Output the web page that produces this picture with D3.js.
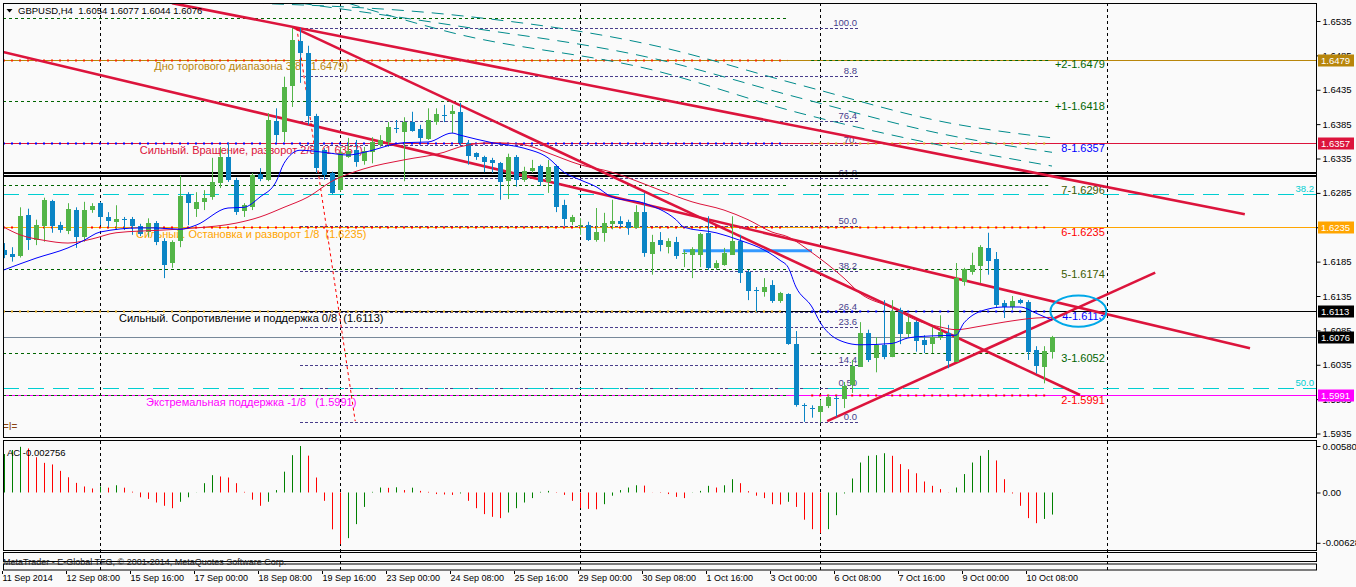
<!DOCTYPE html>
<html>

<head>
    <meta charset="utf-8" />
    <title>GBPUSD,H4</title>
    <script src="https://d3js.org/d3.v7.min.js"></script>
</head>

<body>
    <style>
        body {
            margin: 0;
            background: #fafafa;
        }

        text {
            font-family: "Liberation Sans", Arial, sans-serif;
            white-space: pre;
        }
    </style>

    <svg id="chart"></svg>

    <script>
        // ---- values ----
        var labelBars = [0, 8, 16, 24, 32, 40, 48, 56, 64, 72, 80, 88, 96, 104, 112, 120, 128];
        var labelTexts = ["11 Sep 2014", "12 Sep 08:00", "15 Sep 16:00", "17 Sep 00:00", "18 Sep 08:00",
            "19 Sep 16:00", "23 Sep 00:00", "24 Sep 08:00", "25 Sep 16:00", "29 Sep 00:00", "30 Sep 08:00",
            "1 Oct 16:00", "3 Oct 00:00", "6 Oct 08:00", "7 Oct 16:00", "9 Oct 00:00", "10 Oct 08:00"];

        var opens = [1.6202, 1.6196, 1.6193, 1.6253, 1.6216, 1.6237, 1.6273, 1.6238, 1.6230, 1.6260,
            1.6221, 1.6260, 1.6270, 1.6250, 1.6243, 1.6247, 1.6247, 1.6237, 1.6228, 1.6241,
            1.6215, 1.6183, 1.6214, 1.6283, 1.6262, 1.6272, 1.6279, 1.6299, 1.6337, 1.6304,
            1.6259, 1.6264, 1.6312, 1.6304, 1.6390, 1.6374, 1.6440, 1.6506, 1.6488, 1.6397,
            1.6347, 1.6314, 1.6289, 1.6337, 1.6347, 1.6331, 1.6344, 1.6355, 1.6359, 1.6380,
            1.6374, 1.6388, 1.6378, 1.6363, 1.6388, 1.6399, 1.6400, 1.6403, 1.6358, 1.6343,
            1.6337, 1.6333, 1.6328, 1.6302, 1.6337, 1.6304, 1.6317, 1.6324, 1.6301, 1.6324,
            1.6267, 1.6243, 1.6238, 1.6238, 1.6216, 1.6227, 1.6240, 1.6244, 1.6243, 1.6234,
            1.6257, 1.6197, 1.6216, 1.6206, 1.6214, 1.6197, 1.6194, 1.6195, 1.6227, 1.6176,
            1.6180, 1.6195, 1.6215, 1.6170, 1.6143, 1.6141, 1.6151, 1.6128, 1.6138, 1.6065,
            1.5977, 1.5972, 1.5966, 1.5975, 1.5987, 1.5985, 1.6006, 1.6032, 1.6081, 1.6045,
            1.6064, 1.6046, 1.6115, 1.6080, 1.6097, 1.6071, 1.6065, 1.6075, 1.6081, 1.6039,
            1.6155, 1.6170, 1.6179, 1.6205, 1.6189, 1.6125, 1.6119, 1.6129, 1.6126, 1.6056,
            1.6032, 1.6054];
        var highs = [1.6212, 1.6206, 1.6264, 1.6262, 1.6246, 1.6278, 1.6275, 1.6243, 1.6270, 1.6264,
            1.6272, 1.6270, 1.6272, 1.6257, 1.6267, 1.6250, 1.6250, 1.6240, 1.6248, 1.6244,
            1.6219, 1.6216, 1.6310, 1.6286, 1.6286, 1.6289, 1.6336, 1.6352, 1.6358, 1.6307,
            1.6270, 1.6314, 1.6321, 1.6401, 1.6408, 1.6454, 1.6525, 1.6525, 1.6499, 1.6400,
            1.6350, 1.6316, 1.6352, 1.6365, 1.6362, 1.6352, 1.6366, 1.6369, 1.6388, 1.6391,
            1.6395, 1.6403, 1.6384, 1.6408, 1.6408, 1.6413, 1.6413, 1.6416, 1.6362, 1.6344,
            1.6339, 1.6336, 1.6330, 1.6342, 1.6340, 1.6323, 1.6333, 1.6326, 1.6333, 1.6326,
            1.6275, 1.6253, 1.6248, 1.6243, 1.6263, 1.6256, 1.6275, 1.6251, 1.6246, 1.6267,
            1.6285, 1.6224, 1.6228, 1.6219, 1.6221, 1.6202, 1.6206, 1.6227, 1.6251, 1.6187,
            1.6205, 1.6251, 1.6224, 1.6173, 1.6148, 1.6161, 1.6158, 1.6141, 1.6139, 1.6084,
            1.5979, 1.5976, 1.5984, 1.5991, 1.5990, 1.6010, 1.6042, 1.6097, 1.6086, 1.6075,
            1.6129, 1.6129, 1.6118, 1.6107, 1.6100, 1.6078, 1.6090, 1.6107, 1.6093, 1.6183,
            1.6176, 1.6198, 1.6209, 1.6227, 1.6199, 1.6129, 1.6135, 1.6131, 1.6129, 1.6062,
            1.6062, 1.6077];
        var lows = [1.6190, 1.6185, 1.6191, 1.6202, 1.6209, 1.6214, 1.6227, 1.6227, 1.6225, 1.6205,
            1.6214, 1.6256, 1.6238, 1.6235, 1.6231, 1.6231, 1.6224, 1.6222, 1.6221, 1.6209,
            1.6161, 1.6176, 1.6206, 1.6238, 1.6250, 1.6260, 1.6275, 1.6292, 1.6301, 1.6253,
            1.6250, 1.6260, 1.6302, 1.6302, 1.6358, 1.6359, 1.6410, 1.6445, 1.6384, 1.6314,
            1.6304, 1.6283, 1.6287, 1.6336, 1.6323, 1.6326, 1.6328, 1.6352, 1.6352, 1.6372,
            1.6302, 1.6374, 1.6359, 1.6362, 1.6384, 1.6388, 1.6372, 1.6355, 1.6326, 1.6333,
            1.6315, 1.6314, 1.6275, 1.6276, 1.6294, 1.6301, 1.6314, 1.6295, 1.6285, 1.6257,
            1.6237, 1.6238, 1.6224, 1.6215, 1.6214, 1.6214, 1.6232, 1.6235, 1.6224, 1.6233,
            1.6192, 1.6166, 1.6200, 1.6197, 1.6189, 1.6177, 1.6161, 1.6177, 1.6173, 1.6173,
            1.6179, 1.6195, 1.6154, 1.6129, 1.6112, 1.6134, 1.6125, 1.6125, 1.6064, 1.5974,
            1.5952, 1.5958, 1.5951, 1.5972, 1.5959, 1.5972, 1.5994, 1.6032, 1.6039, 1.6024,
            1.6043, 1.6046, 1.6065, 1.6075, 1.6054, 1.6052, 1.6052, 1.6071, 1.6030, 1.6039,
            1.6150, 1.6166, 1.6154, 1.6166, 1.6118, 1.6103, 1.6115, 1.6123, 1.6042, 1.6022,
            1.6008, 1.6044];
        var closes = [1.6195, 1.6192, 1.6251, 1.6216, 1.6238, 1.6275, 1.6237, 1.6231, 1.6262, 1.6221,
            1.6260, 1.6266, 1.6250, 1.6244, 1.6247, 1.6246, 1.6237, 1.6225, 1.6241, 1.6214,
            1.6180, 1.6214, 1.6280, 1.6270, 1.6272, 1.6278, 1.6301, 1.6337, 1.6304, 1.6257,
            1.6267, 1.6311, 1.6305, 1.6391, 1.6369, 1.6439, 1.6507, 1.6488, 1.6397, 1.6321,
            1.6311, 1.6285, 1.6343, 1.6346, 1.6330, 1.6346, 1.6359, 1.6362, 1.6381, 1.6379,
            1.6388, 1.6375, 1.6365, 1.6391, 1.6400, 1.6398, 1.6404, 1.6358, 1.6339, 1.6337,
            1.6330, 1.6328, 1.6301, 1.6337, 1.6304, 1.6317, 1.6321, 1.6301, 1.6323, 1.6264,
            1.6246, 1.6250, 1.6239, 1.6216, 1.6228, 1.6241, 1.6244, 1.6240, 1.6235, 1.6257,
            1.6197, 1.6214, 1.6208, 1.6215, 1.6193, 1.6198, 1.6203, 1.6225, 1.6176, 1.6183,
            1.6197, 1.6215, 1.6168, 1.6142, 1.6142, 1.6148, 1.6128, 1.6139, 1.6065, 1.5976,
            1.5976, 1.5971, 1.5975, 1.5988, 1.5986, 1.6004, 1.6033, 1.6081, 1.6042, 1.6064,
            1.6046, 1.6113, 1.6080, 1.6097, 1.6070, 1.6064, 1.6075, 1.6083, 1.6040, 1.6161,
            1.6174, 1.6180, 1.6206, 1.6186, 1.6122, 1.6119, 1.6128, 1.6125, 1.6054, 1.6032,
            1.6055, 1.6076];

        // moving averages, sampled along the drawn lines
        var maFastBars = [0, 4, 8, 10, 12, 17, 19, 22, 24, 28, 30, 32, 34, 35, 37, 40, 43, 45, 50, 53,
            56, 57, 61, 65, 68, 70, 72, 74, 76, 80, 84, 85, 89, 92, 95, 97, 98, 99, 101, 102,
            105, 107, 111, 113, 116, 119, 120, 123, 125, 127, 129, 131];
        var maFastValues = [1.6173, 1.6190, 1.6205, 1.6216, 1.6228, 1.6234, 1.6234, 1.6232, 1.6238, 1.6263,
            1.6264, 1.6279, 1.6301, 1.6328, 1.6347, 1.6344, 1.6340, 1.6344, 1.6358, 1.6359,
            1.6372, 1.6369, 1.6358, 1.6350, 1.6336, 1.6315, 1.6304, 1.6294, 1.6279, 1.6270,
            1.6246, 1.6235, 1.6227, 1.6216, 1.6202, 1.6187, 1.6177, 1.6148, 1.6119, 1.6097,
            1.6068, 1.6064, 1.6066, 1.6074, 1.6077, 1.6078, 1.6096, 1.6116, 1.6119, 1.6119,
            1.6110, 1.6100];
        var maSlowBars = [0, 2, 5, 8, 11, 14, 20, 24, 29, 32, 35, 38, 41, 45, 50, 55, 57, 61, 65, 68,
            72, 76, 78, 82, 86, 90, 93, 96, 98, 101, 105, 107, 111, 114, 117, 119, 122, 125, 129, 131];
        var maSlowValues = [1.6235, 1.6224, 1.6216, 1.6212, 1.6218, 1.6227, 1.6231, 1.6234, 1.6241, 1.6250,
            1.6264, 1.6279, 1.6302, 1.6320, 1.6333, 1.6344, 1.6352, 1.6358, 1.6355, 1.6343,
            1.6326, 1.6315, 1.6307, 1.6289, 1.6272, 1.6260, 1.6246, 1.6228, 1.6221, 1.6198,
            1.6161, 1.6139, 1.6118, 1.6100, 1.6090, 1.6086, 1.6091, 1.6097, 1.6103, 1.6104];

        // Accelerator oscillator, in thousandths
        var acMilli = [4.8, 5.3, 5.7, 5.5, 4.4, 3.7, 3.5, 2.7, 1.9, 1.2,
            0.75, 0.5, 0.75, 0.6, 0.9, 0.6, 0.1, -0.6, -0.8, -1.25,
            -1.66, -1.96, -1.16, -0.6, 0.02, 1.16, 2.16, 2.0, 1.87, 1.16,
            0.08, -0.9, -1.66, -1.16, 0.3, 2.6, 4.66, 5.8, 4.6, 1.87,
            -1.04, -4.6, -6.45, -5.7, -3.95, -1.8, 0.08, 0.62, 0.58, 0.65,
            0.3, 0.6, 0.2, 0.08, -0.2, -0.25, -0.3, -0.12, -1.04, -1.96,
            -2.7, -3.04, -3.2, -2.5, -1.96, -1.25, -0.7, 0.08, 0.2, -0.05,
            -0.3, -1.04, -1.96, -2.05, -2.1, -1.46, -0.4, 0.3, 0.62, 0.9,
            0.86, 0.02, -0.05, -0.2, -0.55, -0.7, -0.03, 0.2, 0.83, 0.62,
            0.9, 1.66, 1.16, 0.16, -0.4, -0.7, -1.46, -1.5, -1.16, -1.8,
            -3.4, -4.58, -5.07, -4.58, -2.83, -0.12, 1.75, 3.74, 4.58, 4.66,
            4.9, 4.58, 3.54, 2.9, 2.4, 1.37, 0.83, 0.42, 0.02, 0.62,
            2.3, 3.74, 4.58, 5.3, 4.0, 1.66, -0.12, -1.66, -3.2, -3.83,
            -3.3, -2.756];

        var priceTicks = [1.6535, 1.6485, 1.6435, 1.6385, 1.6335, 1.6285, 1.6235, 1.6185, 1.6135,
            1.6085, 1.6035, 1.5985, 1.5935];
        var acTicks = [0.005803, 0, -0.00628];
        var acTickTexts = ["0.005803", "0.00", "-0.00628"];

        // horizontal level lines with captions
        var levelPrices = [1.6479, 1.6357, 1.6235, 1.6113, 1.5991];
        var levelTexts = ["Дно торгового диапазона 3/8  (1.6479)",
            "Сильный. Вращение, разворот 2/8  (1.6357)",
            "Сильный. Остановка и разворот 1/8  (1.6235)",
            "Сильный. Сопротивление и поддержка 0/8  (1.6113)",
            "Экстремальная поддержка -1/8   (1.5991)"];
        var currentPrice = 1.6076;

        var murreyPrices = [1.6540, 1.6479, 1.6418, 1.6357, 1.6296, 1.6235, 1.6174, 1.6113, 1.6052, 1.5991, 1.5930];
        var murreyTexts = ["", "+2-1.6479", "+1-1.6418", "8-1.6357", "7-1.6296", "6-1.6235",
            "5-1.6174", "4-1.6113", "3-1.6052", "2-1.5991", ""];

        var fibPrices = [1.6525, 1.6455, 1.6390, 1.6355, 1.6307, 1.6237, 1.6172, 1.6112, 1.6090, 1.6034, 1.6001, 1.5952];
        var fibTexts = ["100.0", "8.8", "76.4", "70.", "61.8", "50.0", "38.2", "26.4", "23.6", "14.4", "0.50", "0.0"];
        var bigFibPrices = [1.6283, 1.6001];
        var bigFibTexts = ["38.2", "50.0"];
        var doubleLinePrices = [1.6314, 1.6309];

        // channel curves (bar, price)
        var tealBars = [[31, 56, 81, 99.5, 118, 131], [37, 56, 81, 99.5, 118, 131], [43, 56, 81, 99.5, 118, 131]];
        var tealPrices = [[1.6561, 1.6544, 1.6500, 1.6442, 1.6387, 1.6365],
            [1.6561, 1.6529, 1.6481, 1.6423, 1.6369, 1.6344],
            [1.6561, 1.6518, 1.6464, 1.6401, 1.6352, 1.6324]];

        // trend lines (bar, price) pairs
        var trendFrom = [[-0.125, 1.6490], [36.1, 1.6526], [21, 1.6561], [102.9, 1.5953]];
        var trendTo = [[155.75, 1.6059], [134.5, 1.5991], [155.1, 1.6254], [143.9, 1.6169]];
        var fibDiagonal = [[36.6, 1.6525], [43.9, 1.5953]];
        var markBars = [84.9, 101];
        var markPrice = 1.6201;
        var circleBar = 134.3;
        var circlePrice = 1.6113;
        var gridBars = [12, 42, 72, 102, 137.875];

        // ---- layout ----
        var W = 1356, H = 587;
        var plotL = 3, plotR = 1316, mainT = 3, mainB = 437, acT = 440, acB = 550;

        var svg = d3.select('#chart').attr('width', W).attr('height', H);
        svg.append('rect').attr('width', W).attr('height', H).attr('fill', '#fafafa');

        var x = d3.scaleLinear().domain([0, 131]).range([4, 1052]);
        var y = d3.scaleLinear().domain([1.5935, 1.6535]).range([433.5, 21]);
        var yAc = d3.scaleLinear().domain([-0.00628, 0.005803]).range([542.8, 446]);

        var defs = svg.append('defs');
        defs.append('clipPath').attr('id', 'clipMain').append('rect')
            .attr('x', plotL).attr('y', mainT).attr('width', plotR - plotL).attr('height', mainB - mainT);
        defs.append('clipPath').attr('id', 'clipAc').append('rect')
            .attr('x', plotL).attr('y', acT).attr('width', plotR - plotL).attr('height', acB - acT);

        // vertical grid through all panels
        svg.append('g').selectAll('line').data(gridBars).join('line')
            .attr('x1', d => Math.round(x(d)) + 0.5).attr('x2', d => Math.round(x(d)) + 0.5)
            .attr('y1', mainT).attr('y2', 570)
            .attr('stroke', '#000').attr('stroke-dasharray', '3,3');

        var main = svg.append('g').attr('clip-path', 'url(#clipMain)');
        var px = v => Math.round(v) + 0.5;

        // fibonacci retracement levels
        var fibX1 = x(37), fibX2 = x(106.75);
        main.append('g').selectAll('line').data(fibPrices).join('line')
            .attr('x1', fibX1).attr('x2', fibX2)
            .attr('y1', d => px(y(d))).attr('y2', d => px(y(d)))
            .attr('stroke', '#483d8b').attr('stroke-dasharray', '3,2');
        main.append('g').selectAll('text').data(fibTexts).join('text')
            .attr('x', fibX2 - 1).attr('y', (d, i) => y(fibPrices[i]) - 2)
            .attr('text-anchor', 'end').attr('font-size', 9.5).attr('fill', '#483d8b')
            .text(d => d);

        // wide fibonacci (cyan)
        main.append('g').selectAll('line').data(bigFibPrices).join('line')
            .attr('x1', plotL).attr('x2', plotR)
            .attr('y1', d => px(y(d))).attr('y2', d => px(y(d)))
            .attr('stroke', '#00ced1').attr('stroke-dasharray', '16,9');
        main.append('g').selectAll('text').data(bigFibTexts).join('text')
            .attr('x', plotR - 2).attr('y', (d, i) => y(bigFibPrices[i]) - 2)
            .attr('text-anchor', 'end').attr('font-size', 9.5).attr('fill', '#00ced1')
            .text(d => d);

        // double black line
        main.append('g').selectAll('line').data(doubleLinePrices).join('line')
            .attr('x1', plotL).attr('x2', plotR)
            .attr('y1', d => Math.round(y(d))).attr('y2', d => Math.round(y(d)))
            .attr('stroke', '#000').attr('stroke-width', 2);

        // solid levels
        var levelColor = ['#b8860b', '#dc143c', '#ffa500', '#000000', '#ff00ff'];
        main.append('g').selectAll('line').data(levelPrices).join('line')
            .attr('x1', plotL).attr('x2', plotR)
            .attr('y1', d => px(y(d))).attr('y2', d => px(y(d)))
            .attr('stroke', (d, i) => levelColor[i]);
        main.append('line')
            .attr('x1', plotL).attr('x2', plotR)
            .attr('y1', px(y(currentPrice))).attr('y2', px(y(currentPrice)))
            .attr('stroke', '#778899');

        // murrey math dotted levels, two overlapping indicators
        var dotStyle = {
            fine: { c: '#006400', w: 1, d: '3,3' },
            hot: { c: '#ff2a00', w: 2, d: '2,6' },
            blue: { c: '#0000ff', w: 2, d: '2,6' },
            red: { c: '#ff0000', w: 2, d: '2,6' },
            gold: { c: '#daa520', w: 2, d: '2,6' }
        };
        var styleA = ['fine', 'hot', 'fine', 'blue', 'fine', 'red', 'fine', 'gold', 'fine', 'fine', null];
        var styleB = [null, 'fine', 'fine', 'gold', 'fine', 'red', 'fine', 'blue', 'fine', 'red', 'fine'];
        var textB = [null, '#006400', '#006400', '#0000ff', '#3a5a00', '#ff0000', '#3a5a00', '#0000ff', '#006400', '#ff0000', null];

        function murreySet(styles, x1, x2) {
            var rows = murreyPrices.map((p, i) => ({ p: p, s: styles[i] })).filter(r => r.s);
            main.append('g').selectAll('line').data(rows).join('line')
                .attr('x1', x1).attr('x2', x2)
                .attr('y1', d => px(y(d.p))).attr('y2', d => px(y(d.p)))
                .attr('stroke', d => dotStyle[d.s].c)
                .attr('stroke-width', d => dotStyle[d.s].w)
                .attr('stroke-dasharray', d => dotStyle[d.s].d);
        }
        murreySet(styleA, plotL, x(97.9));
        murreySet(styleB, x(100.9), x(130.75));

        main.append('g').selectAll('text').data(murreyTexts).join('text')
            .attr('x', x(137.6)).attr('y', (d, i) => y(murreyPrices[i]) + 5)
            .attr('dy', '0.35em').attr('text-anchor', 'end').attr('font-size', 11)
            .attr('fill', (d, i) => textB[i] || 'none')
            .text(d => d);

        // teal channel curves
        var tealLine = d3.line().x(d => x(d[0])).y(d => y(d[1])).curve(d3.curveMonotoneX);
        tealBars.forEach(function (bars, j) {
            main.append('path')
                .datum(bars.map((b, i) => [b, tealPrices[j][i]]))
                .attr('d', tealLine)
                .attr('fill', 'none').attr('stroke', '#008b8b')
                .attr('stroke-dasharray', '12,8');
        });

        // level captions
        main.append('g').selectAll('text').data(levelTexts).join('text')
            .attr('x', x(30.9)).attr('y', (d, i) => y(levelPrices[i]) + 7)
            .attr('dy', '0.35em').attr('text-anchor', 'middle').attr('font-size', 11)
            .attr('fill', (d, i) => levelColor[i])
            .text(d => d);

        // marker segment
        main.append('line')
            .attr('x1', x(markBars[0])).attr('x2', x(markBars[1]))
            .attr('y1', y(markPrice)).attr('y2', y(markPrice))
            .attr('stroke', '#3399ff').attr('stroke-width', 3);

        // trend lines
        main.append('g').selectAll('line').data(trendFrom).join('line')
            .attr('x1', d => x(d[0])).attr('y1', d => y(d[1]))
            .attr('x2', (d, i) => x(trendTo[i][0])).attr('y2', (d, i) => y(trendTo[i][1]))
            .attr('stroke', '#dc143c').attr('stroke-width', 2.6);

        main.append('line')
            .attr('x1', x(fibDiagonal[0][0])).attr('y1', y(fibDiagonal[0][1]))
            .attr('x2', x(fibDiagonal[1][0])).attr('y2', y(fibDiagonal[1][1]))
            .attr('stroke', '#ff0000').attr('stroke-dasharray', '3,3');

        main.append('ellipse')
            .attr('cx', x(circleBar)).attr('cy', y(circlePrice))
            .attr('rx', x(circleBar + 3.5) - x(circleBar))
            .attr('ry', y(circlePrice - 0.00228) - y(circlePrice))
            .attr('fill', 'none').attr('stroke', '#00a8e8').attr('stroke-width', 2);

        // candles
        var bars = opens.map((o, i) => ({ i: i, o: o, h: highs[i], l: lows[i], c: closes[i] }));
        var candleColor = d => d.c > d.o ? '#53b548' : '#0b85c5';
        var cg = main.append('g');
        cg.selectAll('line').data(bars).join('line')
            .attr('x1', d => x(d.i) + 0.5).attr('x2', d => x(d.i) + 0.5)
            .attr('y1', d => y(d.h)).attr('y2', d => y(d.l))
            .attr('stroke', candleColor);
        cg.selectAll('rect').data(bars).join('rect')
            .attr('x', d => x(d.i) - 2).attr('width', 5)
            .attr('y', d => Math.round(y(Math.max(d.o, d.c))))
            .attr('height', d => Math.max(1, Math.round(Math.abs(y(d.o) - y(d.c)))))
            .attr('fill', candleColor);

        // moving averages
        var maLine = d3.line().x(d => x(d[0])).y(d => y(d[1])).curve(d3.curveMonotoneX);
        main.append('path').datum(maSlowBars.map((b, i) => [b, maSlowValues[i]]))
            .attr('d', maLine).attr('fill', 'none').attr('stroke', '#dc143c');
        main.append('path').datum(maFastBars.map((b, i) => [b, maFastValues[i]]))
            .attr('d', maLine).attr('fill', 'none').attr('stroke', '#0000ff');

        // header
        svg.append('path').attr('d', 'M6.5,9 L12.5,9 L9.5,12.5 Z').attr('fill', '#000');
        var last = opens.length - 1;
        svg.append('text').attr('x', 18).attr('y', 14).attr('font-size', 9.5)
            .text('GBPUSD,H4  ' + [opens[last], highs[last], lows[last], closes[last]].map(v => v.toFixed(4)).join(' '));
        svg.append('text').attr('x', 3).attr('y', 430).attr('font-size', 10).attr('fill', '#8b4513').text('=I=');

        // AC panel
        var ac = svg.append('g').attr('clip-path', 'url(#clipAc)');
        var acValues = acMilli.map(v => v / 1000);
        ac.selectAll('line').data(acValues).join('line')
            .attr('x1', (d, i) => x(i) + 0.5).attr('x2', (d, i) => x(i) + 0.5)
            .attr('y1', yAc(0)).attr('y2', d => yAc(d))
            .attr('stroke', (d, i) => i === 0 || d >= acValues[i - 1] ? '#008000' : '#ff0000');
        svg.append('text').attr('x', 7).attr('y', 455.5).attr('font-size', 9.5)
            .text('AC ' + acValues[last].toFixed(6));

        // frames
        var frames = [[mainT, mainB], [acT, acB], [552, 561], [563.5, 569.5]];
        svg.append('g').selectAll('rect').data(frames).join('rect')
            .attr('x', plotL + 0.5).attr('y', d => d[0] + 0.5)
            .attr('width', plotR - plotL).attr('height', d => d[1] - d[0])
            .attr('fill', 'none').attr('stroke', '#000');

        svg.append('text').attr('x', 3).attr('y', 565).attr('font-size', 9).attr('fill', '#222')
            .text('MetaTrader - E-Global TFG, © 2001-2014, MetaQuotes Software Corp.');

        // price axis
        var axisP = d3.axisRight(y).tickValues(priceTicks).tickSize(4).tickPadding(2)
            .tickFormat(d3.format('.4f'));
        svg.append('g').attr('transform', 'translate(' + (plotR + 0.5) + ',0)').call(axisP)
            .call(g => g.select('.domain').remove())
            .call(g => g.selectAll('text').attr('font-size', 9.5));

        var axisA = d3.axisRight(yAc).tickValues(acTicks).tickSize(4).tickPadding(2)
            .tickFormat((d, i) => acTickTexts[i]);
        svg.append('g').attr('transform', 'translate(' + (plotR + 0.5) + ',0)').call(axisA)
            .call(g => g.select('.domain').remove())
            .call(g => g.selectAll('text').attr('font-size', 9.5));

        // price boxes on the axis
        var boxPrices = levelPrices.concat([currentPrice]);
        var boxColor = levelColor.concat(['#000000']);
        var boxes = svg.append('g').selectAll('g').data(boxPrices).join('g')
            .attr('transform', d => 'translate(' + (plotR + 2) + ',' + Math.round(y(d)) + ')');
        boxes.append('rect').attr('x', 0).attr('y', -5.5).attr('width', 36).attr('height', 12)
            .attr('fill', (d, i) => boxColor[i]);
        boxes.append('text').attr('x', 3).attr('y', 0.5).attr('dy', '0.35em')
            .attr('font-size', 9.5).attr('fill', '#fff')
            .text(d => d.toFixed(4));

        // time axis
        var axisX = d3.axisBottom(x).tickValues(labelBars).tickSize(3)
            .tickFormat((d, i) => labelTexts[i]);
        svg.append('g').attr('transform', 'translate(-2,571)').call(axisX)
            .call(g => g.select('.domain').remove())
            .call(g => g.selectAll('text').attr('text-anchor', 'start').attr('y', 4).attr('font-size', 9));
    </script>
</body>

</html>
